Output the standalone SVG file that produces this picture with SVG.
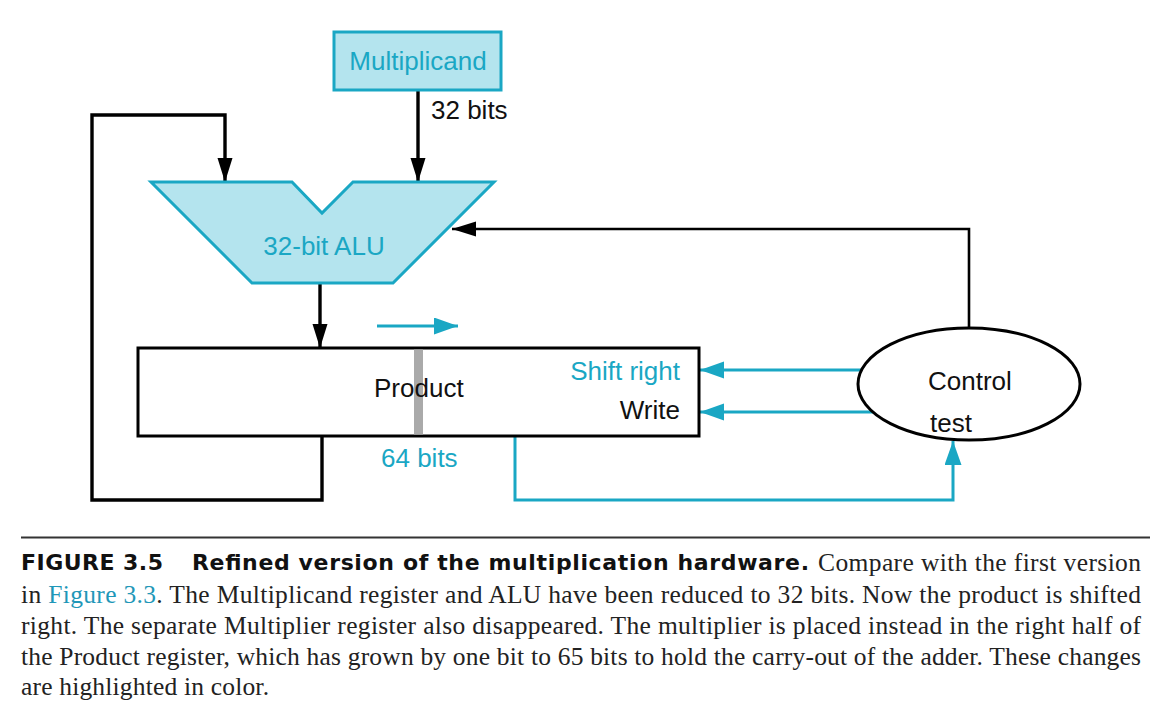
<svg xmlns="http://www.w3.org/2000/svg" width="1167" height="708" viewBox="0 0 1167 708">
<style>
.lbl{font-family:"Liberation Sans",Arial,sans-serif;font-size:26px;fill:#111}
.cy{fill:#1aa7c4}
.blk{fill:none;stroke:#000;stroke-width:3.4}
.thin{fill:none;stroke:#000;stroke-width:2.6}
.cyl{fill:none;stroke:#1aa7c4;stroke-width:3}
.unit{fill:#b4e4ee;stroke:#1aa7c4;stroke-width:3}
.cap{font-family:"Liberation Serif","Times New Roman",serif;font-size:25.5px;fill:#222}
.capb{font-family:"DejaVu Sans","Liberation Sans",Arial,sans-serif;font-size:22px;font-weight:bold;fill:#111}
</style>
<defs>
<marker id="ab" markerUnits="userSpaceOnUse" markerWidth="26" markerHeight="16" refX="24" refY="7.5" orient="auto"><path d="M0,0 L24,7.5 L0,15 z" fill="#000"/></marker>
<marker id="ac" markerUnits="userSpaceOnUse" markerWidth="26" markerHeight="18" refX="24" refY="8.5" orient="auto"><path d="M0,0 L24,8.5 L0,17 z" fill="#1aa7c4"/></marker>
</defs>
<rect width="1167" height="708" fill="#fff"/>
<g id="connectors">
<path class="blk" d="M418,90 V182" marker-end="url(#ab)"/>
<path class="blk" d="M322,437 V500 H92 V115 H225 V182" marker-end="url(#ab)"/>
<path class="blk" d="M320,283 V348" marker-end="url(#ab)"/>
<path class="thin" d="M969,328 V229 H452" marker-end="url(#ab)"/>
<path class="cyl" d="M861,370 H700" marker-end="url(#ac)"/>
<path class="cyl" d="M873,412 H700" marker-end="url(#ac)"/>
<path class="cyl" d="M515,437 V500 H953 V441" marker-end="url(#ac)"/>
<path class="cyl" d="M377,326 H458" marker-end="url(#ac)"/>
</g>
<g id="multiplicand">
<rect class="unit" x="334" y="32" width="167" height="58"/>
<text class="lbl cy" x="418" y="70" text-anchor="middle">Multiplicand</text>
<text class="lbl" x="431" y="119">32 bits</text>
</g>
<g id="alu">
<path class="unit" d="M151,182 H292 L322,213 L353,182 H494 L393,283 H252 Z"/>
<text class="lbl cy" x="324" y="255" text-anchor="middle">32-bit ALU</text>
</g>
<g id="product">
<rect x="138" y="348" width="561" height="88" fill="#fff" stroke="#000" stroke-width="3"/>
<rect x="414" y="349.5" width="9" height="85" fill="#aaa"/>
<text class="lbl" x="374" y="397">Product</text>
<text class="lbl cy" x="680" y="380" text-anchor="end">Shift right</text>
<text class="lbl" x="680" y="419" text-anchor="end">Write</text>
<text class="lbl cy" x="381" y="467">64 bits</text>
</g>
<g id="control">
<ellipse cx="969" cy="384" rx="111" ry="56" fill="#fff" stroke="#000" stroke-width="3"/>
<text class="lbl" x="928" y="390">Control</text>
<text class="lbl" x="930" y="432">test</text>
</g>
<g id="caption">
<line x1="21" y1="537.5" x2="1150" y2="537.5" stroke="#333" stroke-width="2"/>
<text class="capb" x="21" y="570" textLength="142" lengthAdjust="spacing">FIGURE 3.5</text>
<text class="capb" x="192" y="570" textLength="617" lengthAdjust="spacing">Refined version of the multiplication hardware.</text>
<text class="cap" x="818" y="571" textLength="323" lengthAdjust="spacing">Compare with the first version</text>
<text class="cap" x="21" y="603" textLength="1120" lengthAdjust="spacing">in <tspan fill="#1f97b8">Figure 3.3</tspan>. The Multiplicand register and ALU have been reduced to 32 bits. Now the product is shifted</text>
<text class="cap" x="21" y="634" textLength="1120" lengthAdjust="spacing">right. The separate Multiplier register also disappeared. The multiplier is placed instead in the right half of</text>
<text class="cap" x="21" y="665" textLength="1120" lengthAdjust="spacing">the Product register, which has grown by one bit to 65 bits to hold the carry-out of the adder. These changes</text>
<text class="cap" x="21" y="695" textLength="248" lengthAdjust="spacing">are highlighted in color.</text>
</g>
</svg>
